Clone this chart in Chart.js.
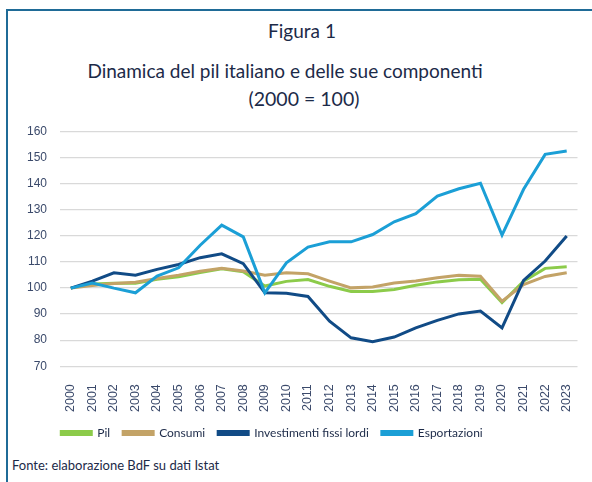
<!DOCTYPE html>
<html><head><meta charset="utf-8">
<script src="https://cdn.jsdelivr.net/npm/chart.js@4.4.0/dist/chart.umd.min.js"></script>
<style>
html,body{margin:0;padding:0;background:#fff;width:592px;height:482px;overflow:hidden;}
#frame{position:absolute;left:6px;top:9px;width:600px;height:490px;border-left:2px solid #1f6b97;border-top:2px solid #1f6b97;}
.t{position:absolute;left:0;width:592px;text-align:center;color:#1c2a48;font-family:Lato,"Open Sans",sans-serif;white-space:nowrap;}
#foot{position:absolute;left:12px;top:457px;color:#1c2a48;font-family:Lato,"Open Sans",sans-serif;font-size:13px;white-space:nowrap;}
canvas{position:absolute;left:0;top:0;}
</style></head>
<body>
<div id="frame"></div>
<div class="t" style="top:19px;font-size:19px;left:6px;">Figura 1</div>
<div class="t" style="top:59px;font-size:19px;left:-11px;">Dinamica del pil italiano e delle sue componenti</div>
<div class="t" style="top:87px;font-size:19.5px;left:8px;">(2000 = 100)</div>
<div id="foot">Fonte: elaborazione BdF su dati Istat</div>
<canvas id="c" width="592" height="482"></canvas>
<script>
const years = ["2000","2001","2002","2003","2004","2005","2006","2007","2008","2009","2010","2011","2012","2013","2014","2015","2016","2017","2018","2019","2020","2021","2022","2023"];
const pil = [100,101.6,101.9,101.9,103.4,104.4,106.0,107.4,106.3,100.8,102.6,103.3,100.7,98.7,98.7,99.5,101.1,102.4,103.2,103.4,94.4,102.7,107.6,108.2];
const consumi = [100,101.0,101.8,102.3,103.7,105.0,106.5,107.6,106.6,105.0,105.9,105.5,102.7,100.1,100.4,102.0,102.7,104.0,104.9,104.6,95.0,101.4,104.5,105.9];
const investimenti = [100,102.7,105.9,105.0,107.2,109.1,111.7,113.2,109.4,98.2,98.0,96.8,87.3,80.9,79.4,81.2,84.7,87.6,90.1,91.2,84.7,103.0,110.4,120.0];
const esportazioni = [100,102.0,100.0,98.2,104.6,107.8,116.5,124.2,119.7,98.2,109.7,115.8,117.8,117.8,120.6,125.5,128.6,135.4,138.2,140.3,120.4,138.0,151.4,152.7];
const yTicks = [70,80,90,100,110,120,130,140,150,160];

const series = [
  {label:"Pil", data:pil, color:"#8ccb4a"},
  {label:"Consumi", data:consumi, color:"#c3a367"},
  {label:"Investimenti fissi lordi", data:investimenti, color:"#114b86"},
  {label:"Esportazioni", data:esportazioni, color:"#1b9fd6"}
];

const shiftLegend = {id:"shiftLegend", afterLayout(chart){ const l=chart.legend; if(l){ l.left-=24; l.right-=24; l.top-=8; l.bottom-=8; } }};

new Chart(document.getElementById("c"), {
  type:"line",
  data:{labels:years, datasets:series.map((s,i)=>({label:s.label,data:s.data,borderColor:s.color,backgroundColor:s.color,borderWidth:3,pointRadius:0,tension:0,order:4-i}))},
  options:{
    responsive:false, animation:false,
    layout:{padding:{top:132,left:14,right:14,bottom:25}},
    plugins:{
      legend:{position:"bottom",labels:{boxWidth:30,boxHeight:3,padding:13,sort:(a,b)=>a.datasetIndex-b.datasetIndex,color:"#1c2a48",font:{family:"Lato, 'Open Sans', sans-serif",size:12}}},
      tooltip:{enabled:false}
    },
    scales:{
      x:{offset:true,grid:{display:false},border:{display:false},ticks:{minRotation:90,maxRotation:90,autoSkip:false,color:"#3b4a6b",font:{family:"'Liberation Sans', Arial, sans-serif",size:12.5},padding:10}},
      y:{min:70,max:160,afterBuildTicks(ax){ax.ticks=yTicks.map(v=>({value:v}));},grid:{color:"#d9d9d9",lineWidth:1.3,drawTicks:false},border:{display:false},ticks:{color:"#3b4a6b",font:{family:"'Liberation Sans', Arial, sans-serif",size:12},padding:13}}
    }
  },
  plugins:[shiftLegend]
});
</script>
</body></html>
